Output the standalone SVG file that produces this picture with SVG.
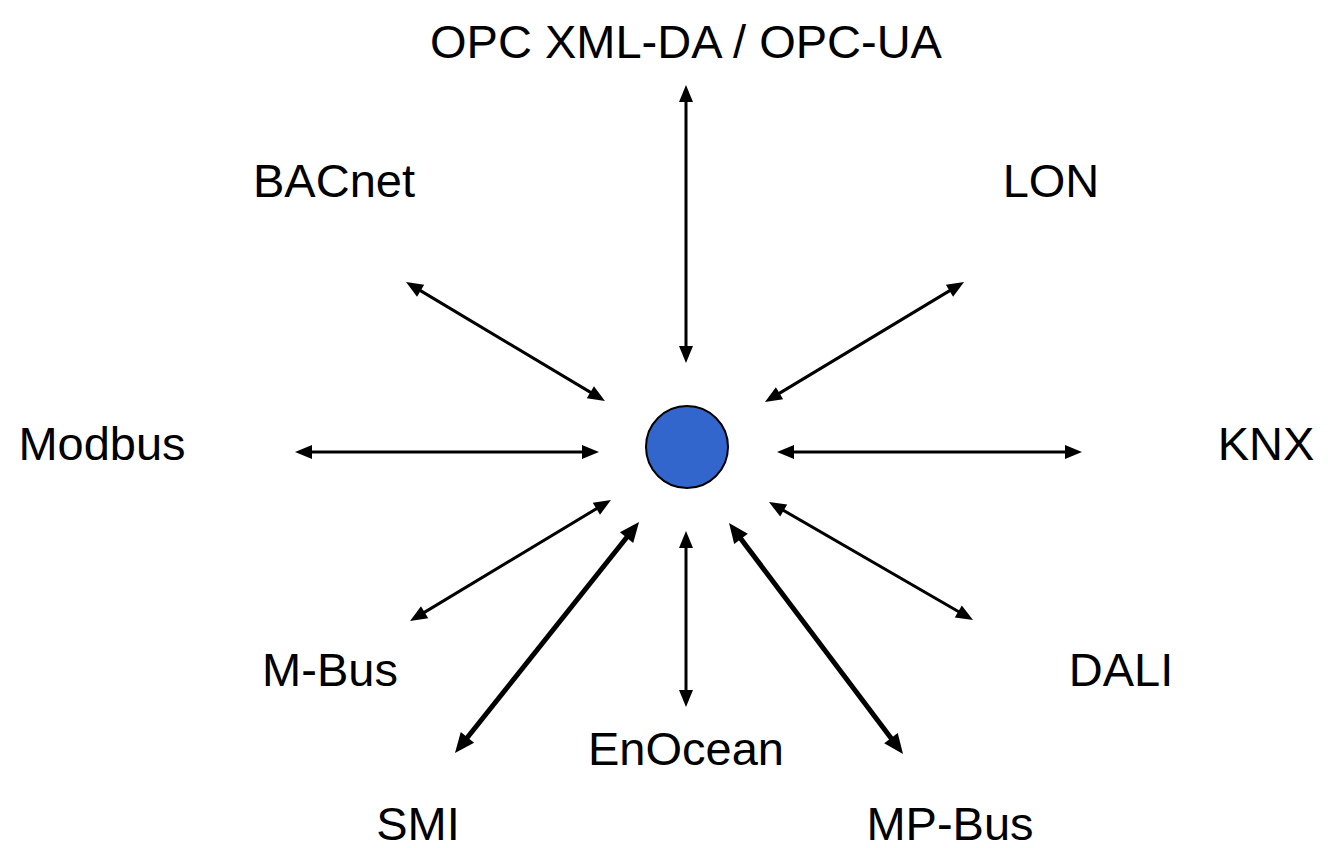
<svg xmlns="http://www.w3.org/2000/svg" width="1328" height="848" viewBox="0 0 1328 848">
<style>
.lbl{font-family:"Liberation Sans",Arial,sans-serif;font-size:47px;fill:#000;text-anchor:middle}
.thin{stroke:#000;stroke-width:3;fill:none;marker-start:url(#ah);marker-end:url(#ah)}
.thick{stroke:#000;stroke-width:5;fill:none;marker-start:url(#ahT);marker-end:url(#ahT)}
</style>
<defs>
<marker id="ah" markerUnits="userSpaceOnUse" markerWidth="17" markerHeight="14" refX="9" refY="7" orient="auto-start-reverse" overflow="visible"><path d="M0,0 L17,7 L0,14 z" fill="#000"/></marker>
<marker id="ahT" markerUnits="userSpaceOnUse" markerWidth="20" markerHeight="17" refX="10" refY="8.5" orient="auto-start-reverse" overflow="visible"><path d="M0,0 L20,8.5 L0,17 z" fill="#000"/></marker>
</defs>
<rect width="1328" height="848" fill="#fff"/>
<g id="connectors">
<line class="thin" x1="686" y1="93" x2="686" y2="355"/>
<line class="thin" x1="686" y1="539" x2="686" y2="699"/>
<line class="thin" x1="303" y1="452" x2="591" y2="452"/>
<line class="thin" x1="785" y1="452" x2="1074" y2="452"/>
<line class="thin" x1="412.9" y1="286.1" x2="598.1" y2="396.9"/>
<line class="thin" x1="957.2" y1="286.1" x2="771.8" y2="397.9"/>
<line class="thin" x1="416.9" y1="616.9" x2="604.1" y2="504.1"/>
<line class="thin" x1="775.9" y1="506" x2="966.1" y2="616"/>
<line class="thick" x1="632.8" y1="529.8" x2="461.2" y2="745.2"/>
<line class="thick" x1="735" y1="531" x2="897" y2="746"/>
</g>
<g id="hub"><circle cx="687" cy="447" r="41" fill="#3366cc" stroke="#000" stroke-width="2"/></g>
<g id="opc"><text class="lbl" x="686" y="58">OPC XML-DA / OPC-UA</text></g>
<g id="bacnet"><text class="lbl" x="334" y="197">BACnet</text></g>
<g id="lon"><text class="lbl" x="1051" y="197">LON</text></g>
<g id="modbus"><text class="lbl" x="102" y="460">Modbus</text></g>
<g id="knx"><text class="lbl" x="1266" y="460">KNX</text></g>
<g id="mbus"><text class="lbl" x="330" y="686">M-Bus</text></g>
<g id="dali"><text class="lbl" x="1121" y="686">DALI</text></g>
<g id="enocean"><text class="lbl" x="686" y="765">EnOcean</text></g>
<g id="smi"><text class="lbl" x="418" y="840">SMI</text></g>
<g id="mpbus"><text class="lbl" x="950" y="840">MP-Bus</text></g>
</svg>
